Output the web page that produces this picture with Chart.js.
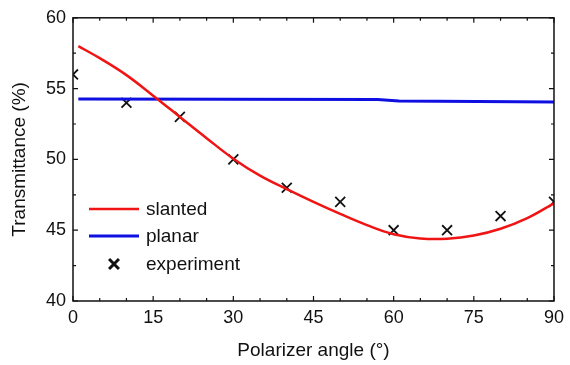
<!DOCTYPE html>
<html>
<head>
<meta charset="utf-8">
<script src="https://cdn.jsdelivr.net/npm/chart.js@4/dist/chart.umd.min.js"></script>
<style>
  html, body { margin: 0; padding: 0; background: #fff; }
</style>
</head>
<body>
<canvas id="myChart" width="570" height="365"></canvas>
<script>
// slanted (simulation)
const slantedAngles = [1, 5, 10, 15, 20, 25, 30, 35, 40, 45, 50, 55, 60, 65, 70, 75, 80, 85, 90]
const slantedValues = [58.0, 57.15, 55.95, 54.5, 53.0, 51.5, 50.05, 48.85, 47.9, 47.0, 46.15, 45.36, 44.72, 44.42, 44.4, 44.62, 45.1, 45.85, 46.9]

// planar (simulation), almost flat
const planarAngles = [1, 57, 61, 83, 90]
const planarValues = [54.27, 54.23, 54.13, 54.07, 54.05]

// experiment
const expAngles = [0, 10, 20, 30, 40, 50, 60, 70, 80, 90]
const expValues = [56, 54, 53, 50, 48, 47, 45, 45, 46, 47]

const xLabels = [0, 15, 30, 45, 60, 75, 90]
const yLabels = [40, 45, 50, 55, 60]

const ink = '#111111'
const red = 'rgb(240, 20, 20)'
const blue = 'rgb(15, 15, 225)'

Chart.defaults.font.family = '"Liberation Sans", Arial, sans-serif'
Chart.defaults.color = ink

const toXY = (xs, ys) => xs.map((x, i) => ({ x: x, y: ys[i] }))

// inward ticks on all four sides plus the frame
const frameTicks = {
    id: 'frameTicks',
    afterDraw(chart) {
        const ctx = chart.ctx, a = chart.chartArea
        const sx = chart.scales.x, sy = chart.scales.y
        ctx.save()
        ctx.strokeStyle = ink
        ctx.lineWidth = 1.5
        ctx.strokeRect(a.left, a.top, a.right - a.left, a.bottom - a.top)
        ctx.lineWidth = 1.2
        ctx.beginPath()
        for (let v = 0; v <= 90; v += 5) {
            const px = sx.getPixelForValue(v)
            const len = v % 15 === 0 ? 5 : 3
            ctx.moveTo(px, a.bottom); ctx.lineTo(px, a.bottom - len)
            ctx.moveTo(px, a.top); ctx.lineTo(px, a.top + len)
        }
        for (let v = 40; v <= 60; v += 2.5) {
            const py = sy.getPixelForValue(v)
            const len = v % 5 === 0 ? 5 : 3
            ctx.moveTo(a.left, py); ctx.lineTo(a.left + len, py)
            ctx.moveTo(a.right, py); ctx.lineTo(a.right - len, py)
        }
        ctx.stroke()
        ctx.restore()
    }
}

// legend inside the plot, lower left
const innerLegend = {
    id: 'innerLegend',
    afterDraw(chart) {
        const ctx = chart.ctx
        const items = chart.data.datasets
        const x0 = 89, x1 = 139, tx = 146
        const rows = [209, 236, 264]
        ctx.save()
        ctx.font = '19px "Liberation Sans", Arial, sans-serif'
        ctx.textBaseline = 'middle'
        items.forEach((ds, i) => {
            const y = rows[i]
            if (ds.showLine === false) {
                ctx.strokeStyle = ink
                ctx.fillStyle = ink
                Chart.helpers.drawPoint(ctx, {
                    pointStyle: 'crossRot', radius: 7, borderWidth: 1.8
                }, (x0 + x1) / 2, y)
            } else {
                ctx.strokeStyle = ds.borderColor
                ctx.lineWidth = ds.borderWidth
                ctx.beginPath()
                ctx.moveTo(x0, y); ctx.lineTo(x1, y)
                ctx.stroke()
            }
            ctx.fillStyle = ink
            ctx.fillText(ds.label, tx, y + 1)
        })
        ctx.restore()
    }
}

const data = {
    datasets: [{
        label: 'slanted',
        data: toXY(slantedAngles, slantedValues),
        borderColor: red,
        borderWidth: 2.5,
        pointRadius: 0,
        tension: 0.4
    },
    {
        label: 'planar',
        data: toXY(planarAngles, planarValues),
        borderColor: blue,
        borderWidth: 3,
        pointRadius: 0
    },
    {
        label: 'experiment',
        data: toXY(expAngles, expValues),
        showLine: false,
        pointStyle: 'crossRot',
        pointRadius: 7,
        borderColor: ink,
        backgroundColor: ink,
        pointBorderWidth: 1.8,
        clip: 0
    }]
}

const config = {
    type: 'line',
    data: data,
    plugins: [frameTicks, innerLegend],
    options: {
        responsive: false,
        animation: false,
        devicePixelRatio: 1,
        layout: { padding: { top: 16, right: 14, left: 0, bottom: 0 } },
        plugins: { legend: { display: false }, tooltip: { enabled: false } },
        scales: {
            x: {
                type: 'linear',
                min: 0, max: 90,
                afterFit: s => { s.height = 64 },
                afterBuildTicks: s => { s.ticks = xLabels.map(v => ({ value: v })) },
                grid: { display: false, drawTicks: false },
                border: { display: false },
                ticks: { padding: 6, font: { size: 18 }, maxRotation: 0 },
                title: {
                    display: true,
                    text: 'Polarizer angle (°)',
                    font: { size: 19 },
                    padding: { bottom: 3 }
                }
            },
            y: {
                min: 40, max: 60,
                afterFit: s => { s.width = 73 },
                afterBuildTicks: s => { s.ticks = yLabels.map(v => ({ value: v })) },
                grid: { display: false, drawTicks: false },
                border: { display: false },
                ticks: { padding: 7, font: { size: 18 } },
                title: {
                    display: true,
                    text: 'Transmittance (%)',
                    font: { size: 19 },
                    padding: { top: 8 }
                }
            }
        }
    }
}

const myChart = new Chart(document.getElementById('myChart'), config)
</script>
</body>
</html>
